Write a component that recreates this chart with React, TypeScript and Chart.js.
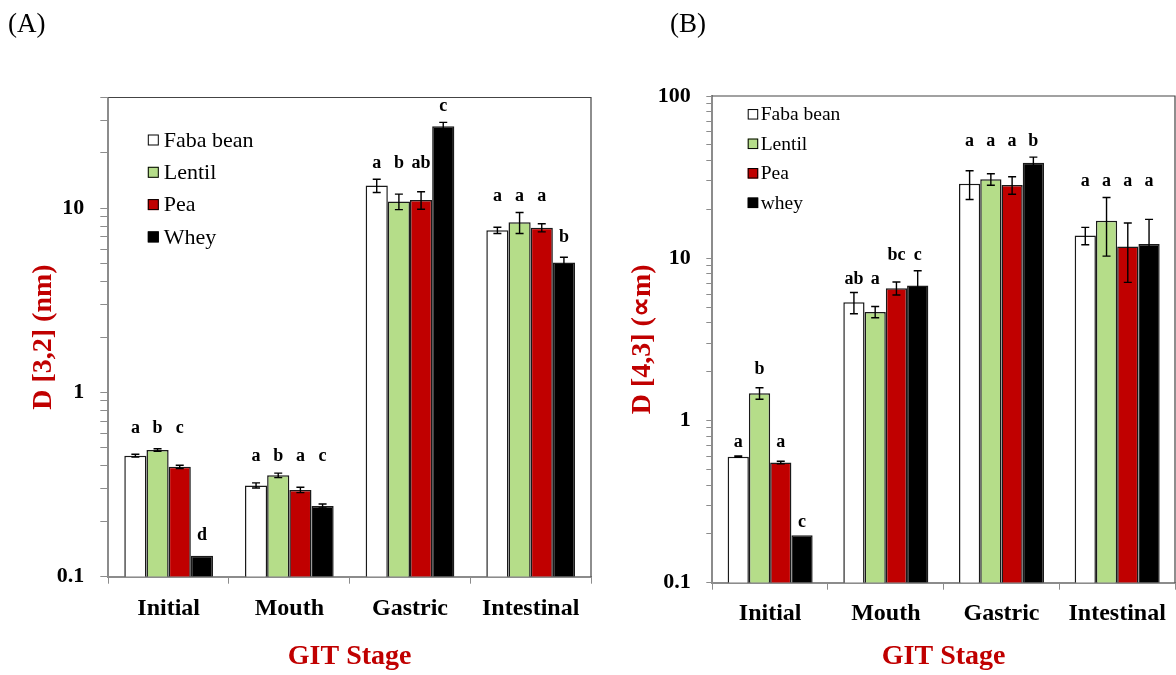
import React, { useEffect, useRef } from "react";
import { Chart, registerables } from "chart.js";

Chart.register(...registerables);

const FONT = "'Liberation Serif', 'Times New Roman', serif";

// ---------- shared ----------
const stages = ["Initial", "Mouth", "Gastric", "Intestinal"];
const seriesNamesA = ["Faba bean", "Lentil", "Pea", "Whey"];
const seriesNamesB = ["Faba bean", "Lentil", "Pea", "whey"];
const seriesColors = ["#FFFFFF", "#B5DD89", "#C00000", "#000000"];

// ---------- Panel A : D[3,2] (nm) ----------
const fabaA = [0.454, 0.313, 13.3, 7.6];
const lentilA = [0.487, 0.355, 10.9, 8.4];
const peaA = [0.395, 0.296, 11.1, 7.85];
const wheyA = [0.13, 0.242, 27.9, 5.08];
const fabaErrA = [0.008, 0.01, 1.1, 0.3];
const lentilErrA = [0.008, 0.01, 1.05, 1.1];
const peaErrA = [0.008, 0.01, 1.2, 0.4];
const wheyErrA = [0, 0.006, 1.4, 0.35];
// significance letters per stage (faba, lentil, pea, whey)
const lettersA = [
  ["a", "b", "c", "d"],
  ["a", "b", "a", "c"],
  ["a", "b", "ab", "c"],
  ["a", "a", "a", "b"],
];
// level (axis value) at which each letter sits
const letterLevelsA = [
  [0.603, 0.603, 0.603, 0.158],
  [0.423, 0.423, 0.423, 0.423],
  [16.6, 16.6, 16.6, 33.7],
  [11.0, 11.0, 11.0, 6.53],
];
const yMinA = 0.1;
const yMaxA = 40;

// ---------- Panel B : D[4,3] ----------
const fabaB = [0.598, 5.35, 28.8, 13.8];
const lentilB = [1.47, 4.67, 30.7, 17.0];
const peaB = [0.55, 6.53, 28.3, 11.8];
const wheyB = [0.196, 6.78, 38.8, 12.25];
const fabaErrB = [0.006, 0.8, 5.8, 1.7];
const lentilErrB = [0.12, 0.37, 2.5, 6.7];
const peaErrB = [0.01, 0.6, 3.5, 4.7];
const wheyErrB = [0, 1.6, 3.2, 5.1];
const lettersB = [
  ["a", "b", "a", "c"],
  ["ab", "a", "bc", "c"],
  ["a", "a", "a", "b"],
  ["a", "a", "a", "a"],
];
const letterLevelsB = [
  [0.69, 1.935, 0.69, 0.221],
  [6.94, 6.94, 9.76, 9.76],
  [49.5, 49.5, 49.5, 49.5],
  [27.9, 27.9, 27.9, 27.9],
];
const yMinB = 0.1;
const yMaxB = 100;

function logTicks(min: number, max: number) {
  const out: number[] = [];
  const e0 = Math.floor(Math.log10(min) + 1e-9);
  const e1 = Math.ceil(Math.log10(max) - 1e-9);
  for (let e = e0; e <= e1; e++) {
    for (let k = 1; k <= 9; k++) {
      const v = parseFloat((k * Math.pow(10, e)).toPrecision(6));
      if (v >= min - 1e-12 && v <= max + 1e-9) out.push(v);
    }
  }
  return out;
}

function isPow10(v: number) {
  const l = Math.log10(v);
  return Math.abs(l - Math.round(l)) < 1e-9;
}

const errorBarPlugin = {
  id: "errbars",
  afterDatasetsDraw(chart: any, _a: any, opts: any) {
    const { ctx } = chart;
    const ys = chart.scales.y;
    const errs: number[][] = opts.errors || [];
    chart.data.datasets.forEach((ds: any, di: number) => {
      const meta = chart.getDatasetMeta(di);
      meta.data.forEach((bar: any, i: number) => {
        const v = ds.data[i];
        const e = errs[di] ? errs[di][i] : 0;
        if (!e) return;
        const x = bar.x;
        const top = ys.getPixelForValue(v + e);
        const bot = ys.getPixelForValue(Math.max(v - e, ys.min));
        const cap = opts.cap || 4;
        ctx.save();
        ctx.strokeStyle = "#000";
        ctx.lineWidth = 1.4;
        ctx.beginPath();
        ctx.moveTo(x, top);
        ctx.lineTo(x, bot);
        ctx.moveTo(x - cap, top);
        ctx.lineTo(x + cap, top);
        ctx.moveTo(x - cap, bot);
        ctx.lineTo(x + cap, bot);
        ctx.stroke();
        ctx.restore();
      });
    });
  },
};

const lettersPlugin = {
  id: "letters",
  afterDatasetsDraw(chart: any, _a: any, opts: any) {
    const { ctx } = chart;
    const ys = chart.scales.y;
    const letters: string[][] = opts.letters || [];
    const levels: number[][] = opts.levels || [];
    ctx.save();
    ctx.fillStyle = "#000";
    ctx.font = `bold ${opts.size || 18}px ${FONT}`;
    ctx.textAlign = "center";
    ctx.textBaseline = "alphabetic";
    chart.data.datasets.forEach((_ds: any, di: number) => {
      const meta = chart.getDatasetMeta(di);
      meta.data.forEach((bar: any, i: number) => {
        const t = letters[i] ? letters[i][di] : "";
        if (!t) return;
        const y = ys.getPixelForValue(levels[i][di]);
        ctx.fillText(t, bar.x, y);
      });
    });
    ctx.restore();
  },
};

const legendPlugin = {
  id: "boxlegend",
  afterDraw(chart: any, _a: any, opts: any) {
    const { ctx, chartArea } = chart;
    ctx.save();
    ctx.font = `${opts.size}px ${FONT}`;
    ctx.textBaseline = "middle";
    ctx.textAlign = "left";
    chart.data.datasets.forEach((ds: any, di: number) => {
      const cy = chartArea.top + opts.top + di * opts.gap;
      const x0 = chartArea.left + opts.left;
      const s = opts.box;
      ctx.fillStyle = ds.backgroundColor;
      ctx.fillRect(x0, cy - s / 2, s, s);
      ctx.strokeStyle = "#000";
      ctx.lineWidth = 1;
      ctx.strokeRect(x0 + 0.5, cy - s / 2 + 0.5, s - 1, s - 1);
      ctx.fillStyle = "#000";
      ctx.fillText(ds.label, x0 + s + opts.textGap, cy + 1);
    });
    ctx.restore();
  },
};

const framePlugin = {
  id: "frame",
  beforeDatasetsDraw(chart: any) {
    const { ctx, chartArea } = chart;
    ctx.save();
    ctx.strokeStyle = "#444";
    ctx.lineWidth = 1.2;
    ctx.beginPath();
    ctx.moveTo(chartArea.left, chartArea.top);
    ctx.lineTo(chartArea.right, chartArea.top);
    ctx.lineTo(chartArea.right, chartArea.bottom);
    ctx.stroke();
    ctx.restore();
  },
};

type PanelCfg = {
  names: string[];
  values: number[][];
  errors: number[][];
  letters: string[][];
  levels: number[][];
  yMin: number;
  yMax: number;
  yTitle: string;
  padTop: number;
  padRight: number;
  yWidth: number;
  xHeight: number;
  yTickLen: number;
  yTickPad: number;
  xTickLen: number;
  xTickPad: number;
  yTitlePad: number;
  legend: any;
  width: number;
};

function buildConfig(c: PanelCfg): any {
  const ticks = logTicks(c.yMin, c.yMax);
  return {
    type: "bar",
    data: {
      labels: stages,
      datasets: c.values.map((vals, i) => ({
        label: c.names[i],
        data: vals,
        backgroundColor: seriesColors[i],
        borderColor: "#1a1a1a",
        borderWidth: 1.5,
        categoryPercentage: 0.735,
        barPercentage: 1.0,
      })),
    },
    options: {
      responsive: false,
      animation: false,
      devicePixelRatio: 1,
      layout: { padding: { top: c.padTop, right: c.padRight, left: 0, bottom: 0 } },
      plugins: {
        legend: { display: false },
        tooltip: { enabled: false },
        errbars: { errors: c.errors, cap: 4 },
        letters: { letters: c.letters, levels: c.levels, size: 18 },
        boxlegend: c.legend,
      },
      scales: {
        x: {
          type: "category",
          grid: {
            display: true,
            drawOnChartArea: false,
            drawTicks: true,
            tickLength: c.xTickLen,
            color: "#8c8c8c",
            offset: true,
          },
          border: { display: true, color: "#8c8c8c", width: 2 },
          ticks: {
            color: "#000",
            font: { family: FONT, size: 24, weight: "bold" },
            padding: c.xTickPad,
            maxRotation: 0,
            autoSkip: false,
          },
          title: {
            display: true,
            text: "GIT Stage",
            color: "#C00000",
            font: { family: FONT, size: 28, weight: "bold" },
            padding: { top: 0, bottom: 1 },
          },
          afterFit: (s: any) => {
            s.height = c.xHeight;
          },
        },
        y: {
          type: "logarithmic",
          min: c.yMin,
          max: c.yMax,
          afterBuildTicks: (s: any) => {
            s.ticks = ticks.map((v) => ({ value: v, major: isPow10(v) }));
          },
          grid: {
            display: true,
            drawOnChartArea: false,
            drawTicks: true,
            tickLength: c.yTickLen,
            color: "#8c8c8c",
          },
          border: { display: true, color: "#8c8c8c", width: 2 },
          ticks: {
            autoSkip: false,
            padding: c.yTickPad,
            color: "#000",
            font: { family: FONT, size: 22, weight: "bold" },
            callback: (v: any) => {
              const n = Number(v);
              if (!isPow10(n)) return "";
              return n < 1 ? n.toFixed(1) : String(Math.round(n));
            },
          },
          title: {
            display: true,
            text: c.yTitle,
            color: "#C00000",
            font: { family: FONT, size: 28, weight: "bold" },
            padding: { top: c.yTitlePad, bottom: 0 },
          },
          afterFit: (s: any) => {
            s.width = c.yWidth;
          },
        },
      },
    },
    plugins: [framePlugin, errorBarPlugin, lettersPlugin, legendPlugin],
  };
}

function Panel({ cfg, left }: { cfg: PanelCfg; left: number }) {
  const ref = useRef<HTMLCanvasElement>(null);
  useEffect(() => {
    if (!ref.current) return;
    const chart = new Chart(ref.current, buildConfig(cfg));
    return () => chart.destroy();
  }, []);
  return (
    <canvas
      ref={ref}
      width={cfg.width}
      height={675}
      style={{ position: "absolute", left, top: 0, width: cfg.width, height: 675 }}
    />
  );
}

const panelA: PanelCfg = {
  names: seriesNamesA,
  values: [fabaA, lentilA, peaA, wheyA],
  errors: [fabaErrA, lentilErrA, peaErrA, wheyErrA],
  letters: lettersA,
  levels: letterLevelsA,
  yMin: yMinA,
  yMax: yMaxA,
  yTitle: "D [3,2] (nm)",
  padTop: 97.5,
  padRight: 9,
  yWidth: 108.3,
  xHeight: 98.3,
  yTickLen: 8,
  yTickPad: 16,
  xTickLen: 7,
  xTickPad: 10.5,
  yTitlePad: 27,
  legend: { left: 39.5, top: 42.5, gap: 32.3, box: 11, textGap: 5, size: 22 },
  width: 600,
};

const panelB: PanelCfg = {
  names: seriesNamesB,
  values: [fabaB, lentilB, peaB, wheyB],
  errors: [fabaErrB, lentilErrB, peaErrB, wheyErrB],
  letters: lettersB,
  levels: letterLevelsB,
  yMin: yMinB,
  yMax: yMaxB,
  yTitle: "D [4,3] (\u221Dm)",
  padTop: 96,
  padRight: 1,
  yWidth: 112.3,
  xHeight: 92.3,
  yTickLen: 6,
  yTickPad: 15.6,
  xTickLen: 7,
  xTickPad: 10,
  yTitlePad: 26,
  legend: { left: 35.4, top: 18.3, gap: 29.5, box: 10.5, textGap: 2.5, size: 19.5 },
  width: 576,
};

export default function App() {
  return (
    <div
      style={{
        position: "fixed",
        left: 0,
        top: 0,
        width: 1176,
        height: 675,
        overflow: "hidden",
        background: "#fff",
      }}
    >
      <Panel cfg={panelA} left={0} />
      <Panel cfg={panelB} left={600} />
      <div
        style={{
          position: "absolute",
          left: 8,
          top: 8,
          fontFamily: FONT,
          fontSize: 27,
          lineHeight: "30px",
          color: "#000",
        }}
      >
        (A)
      </div>
      <div
        style={{
          position: "absolute",
          left: 670,
          top: 8,
          fontFamily: FONT,
          fontSize: 27,
          lineHeight: "30px",
          color: "#000",
        }}
      >
        (B)
      </div>
    </div>
  );
}
